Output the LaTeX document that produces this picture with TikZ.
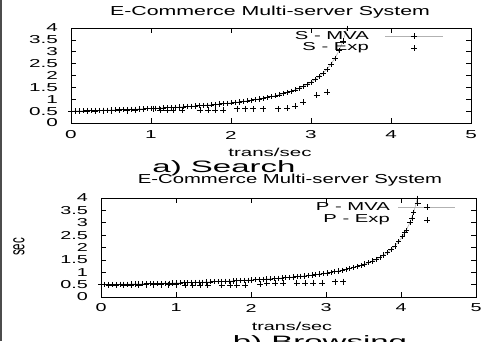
\documentclass[tikz,border=0pt]{standalone}
\usepackage{fontspec}
\setmainfont{Liberation Sans}
\usepackage{graphicx}
\newcommand{\stx}[2]{\scalebox{#1}[1]{#2}}
\begin{document}
\begin{tikzpicture}[x=1pt,y=1pt,
  lbl/.style={font=\fontsize{11.5}{12}\selectfont, inner sep=0pt},
  ttl/.style={font=\fontsize{13}{14}\selectfont, inner sep=0pt},
  capt/.style={font=\fontsize{16.5}{18}\selectfont, inner sep=0pt},
  axisframe/.style={draw=black, line width=1pt},
  tickline/.style={draw=black, line width=0.7pt},
  mvaline/.style={draw=gray!60, line width=0.6pt},
  mvamark/.style={mark=+, mark size=2.6pt, mark options={black, line width=0.55pt}},
  expmark/.style={mark=+, mark size=3pt, mark options={black, line width=0.55pt}},
]
\useasboundingbox (0,0) rectangle (481,341);
\clip (0,0) rectangle (481,341);
\fill[white] (0,0) rectangle (481,341);
\draw[gray!60!black, line width=1.2pt] (1,0) -- (1,341);

% ---------------- top plot ----------------
\node[ttl] (t1) at (270,329) {\stx{1.64}{E-Commerce Multi-server System}};
\begin{scope}[shift={(71,218)}, x=80pt, y=23.75pt]
  \foreach \i in {1,...,4} {
    \draw[tickline] (\i,0) -- ++(0,5pt);
    \draw[tickline] (\i,4) -- ++(0,-5pt);
  }
  \foreach \j in {0.5,1,...,3.5} {
    \draw[tickline] (0,\j) -- ++(5pt,0);
    \draw[tickline] (5,\j) -- ++(-5pt,0);
  }
  \draw[axisframe] (0,0) rectangle (5,4);
  \foreach \i in {0,...,5}
    \node[lbl] at ([yshift=-12pt]\i,0) {\stx{1.8}{\i}};
  \foreach \v/\t in {0/0,0.5/0.5,1/1,1.5/1.5,2/2,2.5/2.5,3/3,3.5/3.5,4/4}
    \node[lbl, anchor=east] at ([xshift=-13pt]0,\v) {\stx{1.8}{\t}};
  \draw[mvaline] plot[domain=0:3.45, samples=70] (\x,{0.1956+1.1415/(3.75-\x)});
  \draw plot[only marks, mvamark, domain=0:3.45, samples=70] (\x,{0.1956+1.1415/(3.75-\x)});
  \draw plot[only marks, expmark] coordinates {
    (0.1,0.5) (0.2,0.51) (0.3,0.51) (0.4,0.52) (0.5,0.52) (0.6,0.53) (0.7,0.52) (0.8,0.53)
    (0.9,0.58) (1.03,0.6) (1.11,0.55) (1.2,0.55) (1.28,0.55) (1.39,0.55)
    (1.61,0.55) (1.71,0.55) (1.8,0.55) (1.9,0.55)
    (2.08,0.6) (2.18,0.6) (2.28,0.6) (2.4,0.6)
    (2.59,0.6) (2.7,0.62) (2.8,0.72) (2.9,0.88) (3.07,1.18) (3.2,1.3)};
\end{scope}
\node[lbl] (x1) at (270,189) {\stx{1.78}{trans/sec}};
\node[capt] (c1) at (224,173) {\stx{2.0}{a) Search}};
% legend top
\node[lbl, anchor=east] (l1a) at (369,305) {\stx{1.76}{S - MVA}};
\node[lbl, anchor=east] (l1b) at (369,293) {\stx{1.76}{S - Exp}};
\coordinate (s1a) at (385,305); \coordinate (s1b) at (443,305);
\draw[mvaline] (s1a) -- (s1b);
\draw plot[only marks, mvamark] coordinates {(414,305)};
\draw plot[only marks, expmark] coordinates {(414,293)};

% ---------------- bottom plot ----------------
\node[ttl] (t2) at (290,161) {\stx{1.56}{E-Commerce Multi-server System}};
\begin{scope}[shift={(101,44)}, x=75pt, y=24.75pt]
  \foreach \i in {1,...,4} {
    \draw[tickline] (\i,0) -- ++(0,5pt);
    \draw[tickline] (\i,4) -- ++(0,-5pt);
  }
  \foreach \j in {0.5,1,...,3.5} {
    \draw[tickline] (0,\j) -- ++(5pt,0);
    \draw[tickline] (5,\j) -- ++(-5pt,0);
  }
  \draw[axisframe] (0,0) rectangle (5,4);
  \foreach \i in {0,...,5}
    \node[lbl] at ([yshift=-11pt]\i,0) {\stx{1.72}{\i}};
  \foreach \v/\t in {0/0,0.5/0.5,1/1,1.5/1.5,2/2,2.5/2.5,3/3,3.5/3.5,4/4}
    \node[lbl, anchor=east] at ([xshift=-13pt]0,\v) {\stx{1.72}{\t}};
  \draw[mvaline] plot[domain=0:4.22, samples=85] (\x,{0.268+1.045/(4.5-\x)});
  \draw plot[only marks, mvamark, domain=0:4.22, samples=85] (\x,{0.268+1.045/(4.5-\x)});
  \draw plot[only marks, expmark] coordinates {
    (0.1,0.48) (0.2,0.48) (0.3,0.49) (0.4,0.49) (0.5,0.49) (0.6,0.5) (0.7,0.5) (0.8,0.5) (0.9,0.5) (1.0,0.5)
    (1.12,0.48) (1.22,0.48) (1.32,0.48) (1.42,0.48)
    (1.61,0.48) (1.72,0.48) (1.81,0.48) (1.92,0.48)
    (2.12,0.52) (2.21,0.55) (2.32,0.57) (2.43,0.57)
    (2.61,0.57) (2.72,0.57) (2.83,0.57) (2.95,0.57)
    (3.12,0.62) (3.23,0.62)
    (4.05,2.6) (4.15,3.2) (4.22,3.8)};
\end{scope}
\node[lbl] (x2) at (292,15) {\stx{1.72}{trans/sec}};
\node[lbl, rotate=90] (yl) at (19,94) {\scalebox{1}[1.8]{sec}};
\node[capt, anchor=north] (c2) at (320,6) {\stx{2.0}{b) Browsing}};
% legend bottom
\node[lbl, anchor=east] (l2a) at (390,134) {\stx{1.76}{P - MVA}};
\node[lbl, anchor=east] (l2b) at (390,121) {\stx{1.76}{P - Exp}};
\coordinate (s2a) at (398,134); \coordinate (s2b) at (455,134);
\draw[mvaline] (s2a) -- (s2b);
\draw plot[only marks, mvamark] coordinates {(427,134)};
\draw plot[only marks, expmark] coordinates {(427,121)};
\end{tikzpicture}
\end{document}
